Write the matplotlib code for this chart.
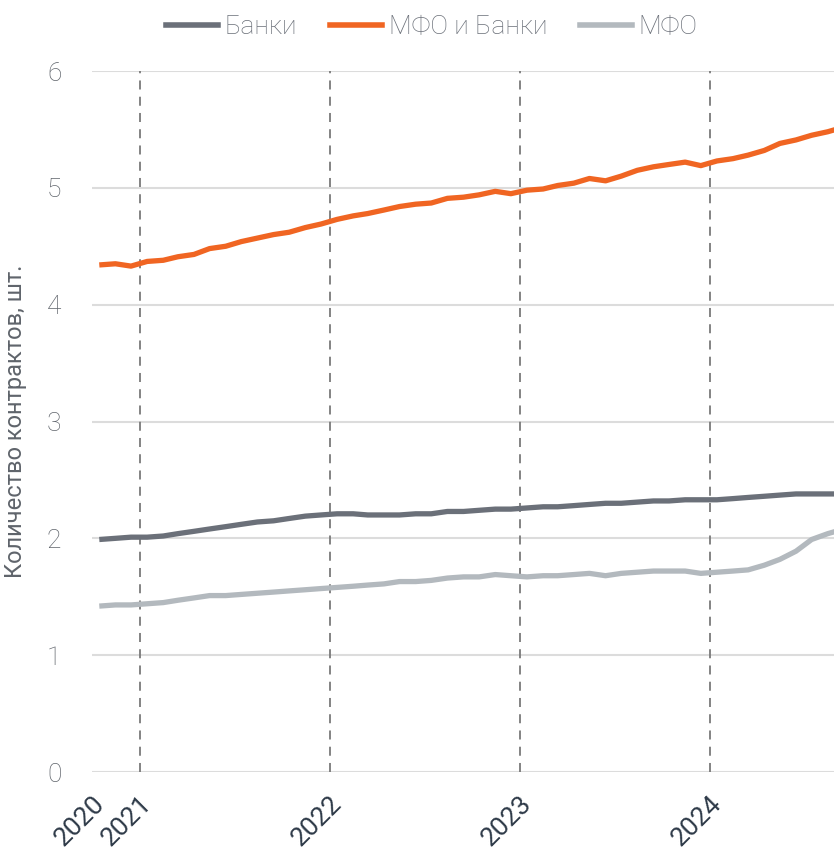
import pandas as pd
import matplotlib.pyplot as plt
from matplotlib.lines import Line2D

# monthly values, mid-month from Oct 2020 to Sep 2024
dates = pd.date_range("2020-10-01", periods=48, freq="MS") + pd.Timedelta(days=14)

banks = [1.99, 2.00, 2.01, 2.01, 2.02, 2.04, 2.06, 2.08, 2.10, 2.12, 2.14, 2.15,
         2.17, 2.19, 2.20, 2.21, 2.21, 2.20, 2.20, 2.20, 2.21, 2.21, 2.23, 2.23,
         2.24, 2.25, 2.25, 2.26, 2.27, 2.27, 2.28, 2.29, 2.30, 2.30, 2.31, 2.32,
         2.32, 2.33, 2.33, 2.33, 2.34, 2.35, 2.36, 2.37, 2.38, 2.38, 2.38, 2.38]
mfo_banks = [4.34, 4.35, 4.33, 4.37, 4.38, 4.41, 4.43, 4.48, 4.50, 4.54, 4.57, 4.60,
             4.62, 4.66, 4.69, 4.73, 4.76, 4.78, 4.81, 4.84, 4.86, 4.87, 4.91, 4.92,
             4.94, 4.97, 4.95, 4.98, 4.99, 5.02, 5.04, 5.08, 5.06, 5.10, 5.15, 5.18,
             5.20, 5.22, 5.19, 5.23, 5.25, 5.28, 5.32, 5.38, 5.41, 5.45, 5.48, 5.52]
mfo = [1.42, 1.43, 1.43, 1.44, 1.45, 1.47, 1.49, 1.51, 1.51, 1.52, 1.53, 1.54,
       1.55, 1.56, 1.57, 1.58, 1.59, 1.60, 1.61, 1.63, 1.63, 1.64, 1.66, 1.67,
       1.67, 1.69, 1.68, 1.67, 1.68, 1.68, 1.69, 1.70, 1.68, 1.70, 1.71, 1.72,
       1.72, 1.72, 1.70, 1.71, 1.72, 1.73, 1.77, 1.82, 1.89, 1.99, 2.04, 2.08]

series_names = ["Банки", "МФО и Банки", "МФО"]
series_colors = ["#6b7079", "#f06522", "#b3b9be"]
year_ticks = ["2020-10-01", "2021-01-01", "2022-01-01", "2023-01-01", "2024-01-01"]
year_labels = ["2020", "2021", "2022", "2023", "2024"]

plt.rcParams["font.family"] = ["Roboto", "DejaVu Sans"]
plt.rcParams["font.weight"] = "light"

fig = plt.figure(figsize=(8.34, 8.47), dpi=100)
ax = fig.add_axes([92 / 834, 75 / 847, 742 / 834, 701 / 847])

for vals, name, col in zip([banks, mfo_banks, mfo], series_names, series_colors):
    ax.plot(dates, vals, color=col, lw=3.8, label=name,
            solid_capstyle="butt", solid_joinstyle="round")

# dashed year markers
for d in year_ticks[1:]:
    ax.axvline(pd.Timestamp(d), color="#7a7a7a", lw=1.3, ls=(0, (5, 4)), zorder=1)

ax.set_ylim(0, 6)
ax.set_xlim(pd.Timestamp("2020-10-01"), pd.Timestamp("2024-08-27"))
ax.set_yticks(range(0, 7))
ax.grid(axis="y", color="#dcdcdc", lw=1.5)
ax.set_axisbelow(True)
for s in ax.spines.values():
    s.set_visible(False)

ax.set_xticks([pd.Timestamp(d) for d in year_ticks])
ax.set_xticklabels(year_labels, rotation=45, ha="right", rotation_mode="anchor",
                   fontsize=19, color="#2e3a48", fontweight="normal")
ax.tick_params(axis="x", length=0, pad=14)
ax.tick_params(axis="y", length=0, labelsize=19, labelcolor="#5f646b", pad=22)

ax.set_ylabel("Количество контрактов, шт.", fontsize=17, color="#5f646b", labelpad=14)

handles = [Line2D([], [], color=c, lw=4) for c in series_colors]
fig.legend(handles, series_names, loc="center", bbox_to_anchor=(432 / 834, 1 - 27 / 847),
           ncol=3, frameon=False, fontsize=19, labelcolor="#6b7079",
           handlelength=1.95, handletextpad=0.27, columnspacing=1.25)

fig.savefig("out.png", dpi=100)
